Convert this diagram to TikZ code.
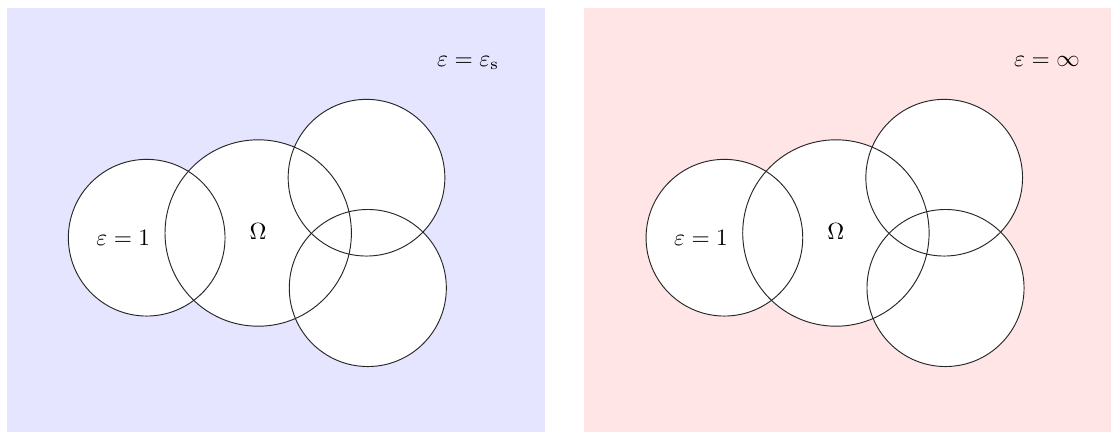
\documentclass[tikz,border=0pt]{standalone}
\usepackage{amsmath}
\usepackage{amssymb}
\usepackage{xcolor}
\usepackage{tikz}
\usetikzlibrary{positioning}

\begin{document}
\begin{tikzpicture}[
  x=0.015cm, y=-0.015cm,
  panel_left/.style={fill=blue!10},
  panel_right/.style={fill=red!10},
  ball/.style={fill=white},
  rim/.style={draw=black!85, line width=0.4pt},
  lbl/.style={inner sep=0pt, anchor=base}
]
\useasboundingbox (0,0) rectangle (1111,432);

% Background media
\path[panel_left] (7,8) rectangle (545,432);
\path[panel_right] (584,8) rectangle (1111,432);

% Molecule spheres, same in both panels
\foreach \dx/\side in {0/L, 577.7/R} {
  \coordinate (\side one) at (146.7+\dx, 237.7);
  \coordinate (\side omega) at (258.2+\dx, 233);
  \coordinate (\side up) at (366.5+\dx, 177.7);
  \coordinate (\side down) at (367.8+\dx, 288);

  % fills first, outlines on top
  \fill[ball] (\side one) circle[radius=1.175cm];
  \fill[ball] (\side omega) circle[radius=1.398cm];
  \fill[ball] (\side up) circle[radius=1.175cm];
  \fill[ball] (\side down) circle[radius=1.178cm];
  \path[rim] (\side one) circle[radius=1.175cm];
  \path[rim] (\side omega) circle[radius=1.398cm];
  \path[rim] (\side up) circle[radius=1.175cm];
  \path[rim] (\side down) circle[radius=1.178cm];

  % labels inside
  \node[lbl] (\side eps) at (123.3+\dx, 245.5) {$\varepsilon = 1$};
  \node[lbl] (\side dom) at (258.2+\dx, 239.5) {$\Omega$};
}

% Solvent labels
\node[lbl] (solvL) at (468, 66) {$\varepsilon = \varepsilon_{\mathrm{s}}$};
\node[lbl] (solvR) at (1047, 66) {$\varepsilon = \infty$};

\end{tikzpicture}
\end{document}
